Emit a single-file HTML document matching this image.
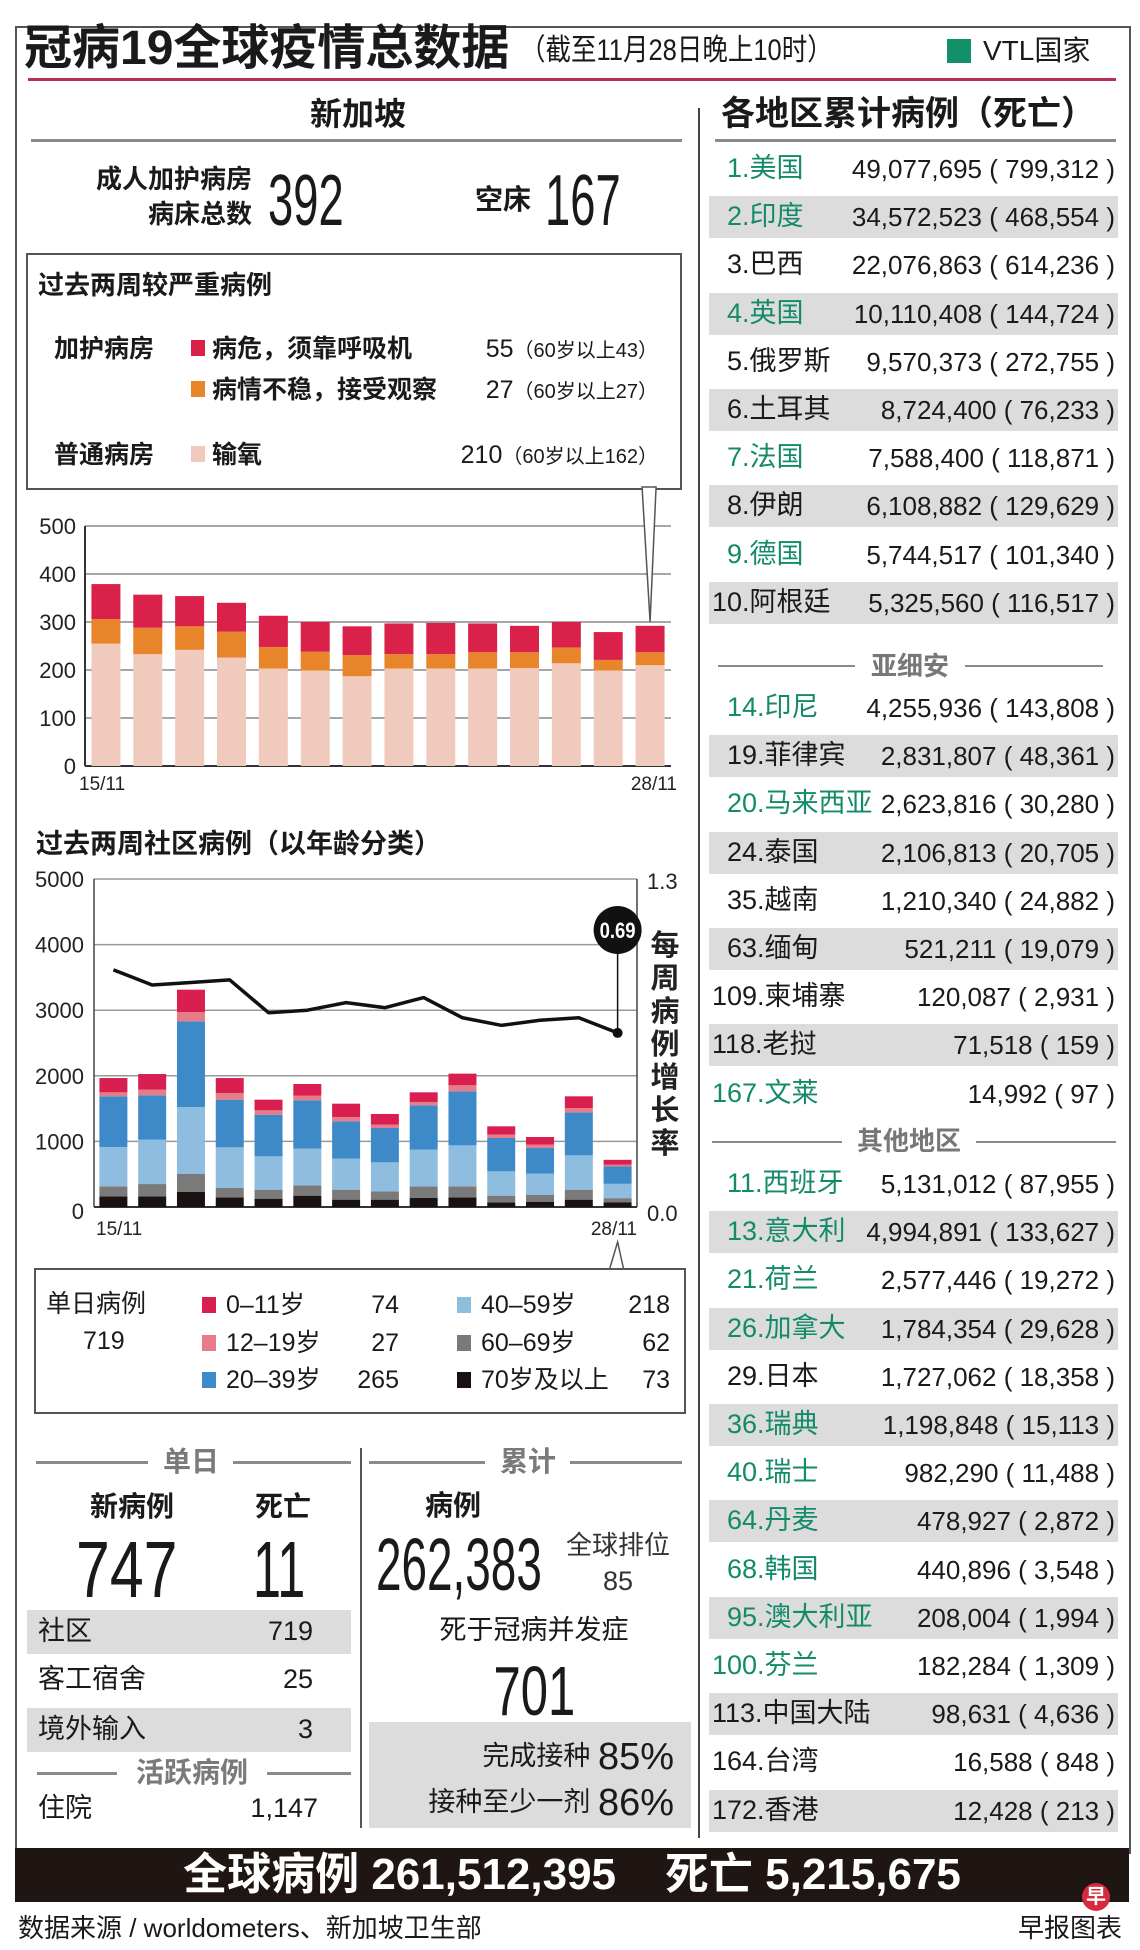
<!DOCTYPE html>
<html><head><meta charset="utf-8">
<style>
html,body{margin:0;padding:0}
body{width:1140px;height:1950px;position:relative;overflow:hidden;background:#fff;font-family:"Liberation Sans","Noto Sans CJK SC",sans-serif;color:#1a1a1a}
.t{position:absolute;white-space:nowrap;line-height:1}
.b{font-weight:bold}
.r{text-align:right}
.c{text-align:center}
.ln{position:absolute;background:#8a8a8a}
.cond{display:inline-block;transform-origin:left center}
svg{position:absolute;overflow:visible}
.sq{position:absolute;width:14px;height:16px}
.grow{position:absolute;background:#dcdcdc}
</style></head>
<body>
<div style="position:absolute;left:15px;top:26px;width:1112px;height:1826px;border:2px solid #555;border-bottom:none"></div>
<div class="t b" style="left:24px;top:25px;font-size:48px">冠病19全球疫情总数据</div>
<div class="t" style="left:520px;top:36px;font-size:30px"><span class="cond" style="transform:scaleX(.85)">（截至11月28日晚上10时）</span></div>
<div style="position:absolute;left:947px;top:39px;width:24px;height:24px;background:#11906a"></div>
<div class="t" style="left:983px;top:37px;font-size:28px">VTL国家</div>
<div style="position:absolute;left:28px;top:78px;width:1088px;height:3px;background:#b8304f"></div>

<div class="t b c" style="left:258px;top:98px;width:200px;font-size:32px">新加坡</div>
<div class="ln" style="left:31px;top:139px;width:651px;height:3px"></div>
<div style="position:absolute;left:698px;top:108px;width:2px;height:1730px;background:#444"></div>
<div class="t b r" style="left:50px;top:166px;width:202px;font-size:26px">成人加护病房</div>
<div class="t b r" style="left:50px;top:201px;width:202px;font-size:26px">病床总数</div>
<div class="t" style="left:268px;top:165px;font-size:72px"><span class="cond" style="transform:scaleX(.63)">392</span></div>
<div class="t b" style="left:475px;top:186px;font-size:28px">空床</div>
<div class="t" style="left:545px;top:165px;font-size:72px"><span class="cond" style="transform:scaleX(.63)">167</span></div>

<div style="position:absolute;left:26px;top:253px;width:652px;height:233px;border:2px solid #555"></div>
<div class="t b" style="left:38px;top:272px;font-size:26px">过去两周较严重病例</div>
<div class="t b" style="left:54px;top:337px;font-size:25px">加护病房</div>
<div class="sq" style="left:191px;top:340px;background:#d9214a"></div>
<div class="t b" style="left:212px;top:337px;font-size:25px">病危，须靠呼吸机</div>
<div class="t r" style="left:440px;top:337px;width:218px;font-size:25px">55<span style="font-size:20px">（60岁以上43）</span></div>
<div class="sq" style="left:191px;top:381px;background:#e8852a"></div>
<div class="t b" style="left:212px;top:378px;font-size:25px">病情不稳，接受观察</div>
<div class="t r" style="left:440px;top:378px;width:218px;font-size:25px">27<span style="font-size:20px">（60岁以上27）</span></div>
<div class="t b" style="left:54px;top:443px;font-size:25px">普通病房</div>
<div class="sq" style="left:191px;top:446px;background:#f0cbbd"></div>
<div class="t b" style="left:212px;top:443px;font-size:25px">输氧</div>
<div class="t r" style="left:420px;top:443px;width:238px;font-size:25px">210<span style="font-size:20px">（60岁以上162）</span></div>

<svg id="c1" style="left:0;top:480px" width="700" height="330" viewBox="0 480 700 330"></svg>

<div class="t b" style="left:36px;top:831px;font-size:27px">过去两周社区病例（以年龄分类）</div>
<svg id="c2" style="left:0;top:860px" width="700" height="410" viewBox="0 860 700 410"></svg>

<div style="position:absolute;left:34px;top:1268px;width:648px;height:142px;border:2px solid #555"></div>
<div class="t" style="left:46px;top:1292px;font-size:25px">单日病例</div>
<div class="t" style="left:83px;top:1329px;font-size:25px">719</div>
<div id="legend"></div>

<div class="ln" style="left:36px;top:1461px;width:112px;height:3px"></div>
<div class="ln" style="left:233px;top:1461px;width:118px;height:3px"></div>
<div class="t b c" style="left:150px;top:1448px;width:82px;font-size:28px;color:#7a7a7a">单日</div>
<div class="t b c" style="left:72px;top:1493px;width:120px;font-size:28px">新病例</div>
<div class="t b c" style="left:233px;top:1493px;width:100px;font-size:28px">死亡</div>
<div class="t" style="left:76px;top:1530px;font-size:80px"><span class="cond" style="transform:scaleX(.76)">747</span></div>
<div class="t" style="left:253px;top:1530px;font-size:80px"><span class="cond" style="transform:scaleX(.63)">11</span></div>
<div class="grow" style="left:27px;top:1610px;width:324px;height:44px"></div>
<div class="t" style="left:38px;top:1618px;font-size:27px">社区</div>
<div class="t r" style="left:213px;top:1618px;width:100px;font-size:27px">719</div>
<div class="t" style="left:38px;top:1666px;font-size:27px">客工宿舍</div>
<div class="t r" style="left:213px;top:1666px;width:100px;font-size:27px">25</div>
<div class="grow" style="left:27px;top:1708px;width:324px;height:44px"></div>
<div class="t" style="left:38px;top:1716px;font-size:27px">境外输入</div>
<div class="t r" style="left:213px;top:1716px;width:100px;font-size:27px">3</div>
<div class="ln" style="left:37px;top:1772px;width:80px;height:3px"></div>
<div class="ln" style="left:267px;top:1772px;width:84px;height:3px"></div>
<div class="t b c" style="left:120px;top:1759px;width:144px;font-size:28px;color:#7a7a7a">活跃病例</div>
<div class="t" style="left:38px;top:1795px;font-size:27px">住院</div>
<div class="t r" style="left:200px;top:1795px;width:118px;font-size:27px">1,147</div>
<div style="position:absolute;left:360px;top:1448px;width:2px;height:380px;background:#555"></div>

<div class="ln" style="left:369px;top:1461px;width:116px;height:3px"></div>
<div class="ln" style="left:570px;top:1461px;width:112px;height:3px"></div>
<div class="t b c" style="left:487px;top:1448px;width:82px;font-size:28px;color:#7a7a7a">累计</div>
<div class="t b" style="left:425px;top:1492px;font-size:28px">病例</div>
<div class="t" style="left:376px;top:1528px;font-size:74px"><span class="cond" style="transform:scaleX(.62)">262,383</span></div>
<div class="t" style="left:566px;top:1532px;font-size:26px;color:#333">全球排位</div>
<div class="t c" style="left:578px;top:1568px;width:80px;font-size:27px;color:#333">85</div>
<div class="t c" style="left:400px;top:1617px;width:268px;font-size:27px">死于冠病并发症</div>
<div class="t c" style="left:434px;top:1656px;width:200px;font-size:70px"><span style="display:inline-block;transform:scaleX(.7)">701</span></div>
<div class="grow" style="left:369px;top:1722px;width:322px;height:106px"></div>
<div class="t r" style="left:380px;top:1738px;width:294px;font-size:27px">完成接种 <span style="font-size:38px;vertical-align:-4px">85%</span></div>
<div class="t r" style="left:380px;top:1784px;width:294px;font-size:27px">接种至少一剂 <span style="font-size:38px;vertical-align:-4px">86%</span></div>

<div class="t b" style="left:721px;top:97px;font-size:34px">各地区累计病例（死亡）</div>
<div class="ln" style="left:715px;top:139px;width:401px;height:3px"></div>
<div class="ln" style="left:718px;top:665px;width:137px;height:2px"></div>
<div class="ln" style="left:965px;top:665px;width:138px;height:2px"></div>
<div class="t b c" style="left:857px;top:653px;width:106px;font-size:26px;color:#777">亚细安</div>
<div class="ln" style="left:712px;top:1141px;width:130px;height:2px"></div>
<div class="ln" style="left:976px;top:1141px;width:140px;height:2px"></div>
<div class="t b c" style="left:842px;top:1128px;width:134px;font-size:26px;color:#777">其他地区</div>
<div id="table"></div>

<div style="position:absolute;left:15px;top:1848px;width:1114px;height:54px;background:#1f1512"></div>
<div class="t b c" style="left:15px;top:1853px;width:1114px;font-size:44px;color:#fff">全球病例 261,512,395&nbsp;&nbsp;&nbsp; 死亡 5,215,675</div>
<div class="t" style="left:18px;top:1915px;font-size:26px">数据来源 / worldometers、新加坡卫生部</div>
<div class="t" style="left:1018px;top:1915px;font-size:26px">早报图表</div>
<div class="t b c" style="left:1082px;top:1883px;width:28px;height:28px;line-height:28px;border-radius:14px;background:#d62a3e;color:#fff;font-size:20px">早</div>

<script>
const c1Oxygen   = [255,233,242,226,203,199,187,203,203,203,204,214,199,210];
const c1Unstable = [51,55,49,54,45,39,44,30,30,34,33,33,22,27];
const c1Critical = [73,69,63,60,65,62,60,64,65,60,55,53,58,55];
const c1Ticks = [0,100,200,300,400,500];
const c1XLabels = ['15/11','28/11'];

const c2Age70 = [163,163,229,147,127,173,112,112,137,147,71,81,112,73];
const c2Age60 = [152,187,274,143,137,157,152,127,178,168,102,107,152,62];
const c2Age40 = [600,676,1021,620,508,559,473,442,559,625,371,320,524,218];
const c2Age20 = [772,676,1306,726,635,737,569,523,676,823,508,391,655,265];
const c2Age12 = [61,87,142,102,67,71,66,51,51,92,51,51,66,27];
const c2Age0  = [218,238,341,228,162,178,203,163,147,178,127,117,178,74];
const c2Growth = [0.94,0.88,0.89,0.90,0.77,0.78,0.81,0.79,0.83,0.75,0.72,0.74,0.75,0.69];
const c2Ticks = [0,1000,2000,3000,4000,5000];
const c2RightTicks = ['1.3','0.0'];
const c2XLabels = ['15/11','28/11'];

const legendNames = ['0–11岁','12–19岁','20–39岁','40–59岁','60–69岁','70岁及以上'];
const legendValues = [74,27,265,218,62,73];
const legendColors = ['#d91f4f','#e57c88','#3e8ac8','#8fbde0','#7a7a7a','#1a1210'];

const top10 = [['1.美国','49,077,695','799,312',1],['2.印度','34,572,523','468,554',1],['3.巴西','22,076,863','614,236',0],['4.英国','10,110,408','144,724',1],['5.俄罗斯','9,570,373','272,755',0],['6.土耳其','8,724,400','76,233',0],['7.法国','7,588,400','118,871',1],['8.伊朗','6,108,882','129,629',0],['9.德国','5,744,517','101,340',1],['10.阿根廷','5,325,560','116,517',0]];
const asean = [['14.印尼','4,255,936','143,808',1],['19.菲律宾','2,831,807','48,361',0],['20.马来西亚','2,623,816','30,280',1],['24.泰国','2,106,813','20,705',0],['35.越南','1,210,340','24,882',0],['63.缅甸','521,211','19,079',0],['109.柬埔寨','120,087','2,931',0],['118.老挝','71,518','159',0],['167.文莱','14,992','97',1]];
const others = [['11.西班牙','5,131,012','87,955',1],['13.意大利','4,994,891','133,627',1],['21.荷兰','2,577,446','19,272',1],['26.加拿大','1,784,354','29,628',1],['29.日本','1,727,062','18,358',0],['36.瑞典','1,198,848','15,113',1],['40.瑞士','982,290','11,488',1],['64.丹麦','478,927','2,872',1],['68.韩国','440,896','3,548',1],['95.澳大利亚','208,004','1,994',1],['100.芬兰','182,284','1,309',1],['113.中国大陆','98,631','4,636',0],['164.台湾','16,588','848',0],['172.香港','12,428','213',0]];

const NS='http://www.w3.org/2000/svg';
function mk(parent,tag,attrs){const e=document.createElementNS(NS,tag);for(const k in attrs)e.setAttribute(k,attrs[k]);parent.appendChild(e);return e;}

(function(){
  const svg=document.getElementById('c1');
  const x0=85,x1=671,yb=766,yt=526,max=500,n=c1Oxygen.length,band=(x1-x0)/n,bw=29;
  const y=v=>yb-(v/max)*(yb-yt);
  const cx=i=>x0+band*(i+0.5);
  c1Ticks.forEach(t=>{
    const l=mk(svg,'line',{x1:x0,x2:x1,y1:y(t),y2:y(t),stroke:t===0?'#333':'#888','stroke-width':t===0?2:1.5});
    
    
    const tx=mk(svg,'text',{x:x0-9,y:y(t)+8,'text-anchor':'end','font-size':22,'font-family':'Liberation Sans',fill:'#222'});
    tx.textContent=t;
    
    
  });
  const ax=mk(svg,'line',{x1:x0,x2:x0,y1:yt,y2:yb,stroke:'#333','stroke-width':2});
  
  
  const series=[[c1Oxygen,'#f0cbbd'],[c1Unstable,'#e8852a'],[c1Critical,'#d9214a']];
  for(let i=0;i<n;i++){
    let acc=0;
    series.forEach(([arr,col])=>{
      const r=mk(svg,'rect',{x:cx(i)-bw/2,y:y(acc+arr[i]),width:bw,height:y(acc)-y(acc+arr[i]),fill:col});
      
      
      acc+=arr[i];
    });
  }
  const l1=mk(svg,'text',{x:x0-6,y:yb+24,'font-size':19,'font-family':'Liberation Sans',fill:'#222'});l1.textContent=c1XLabels[0];
  
  
  const l2=mk(svg,'text',{x:x1+6,y:yb+24,'text-anchor':'end','font-size':19,'font-family':'Liberation Sans',fill:'#222'});l2.textContent=c1XLabels[1];
  
  
  let last=c1Oxygen[n-1]+c1Unstable[n-1]+c1Critical[n-1];
  const p=mk(svg,'polygon',{points:`${cx(n-1)-8},487 ${cx(n-1)+6},487 ${cx(n-1)},${y(last)-4}`,fill:'#fff',stroke:'#555','stroke-width':1.5});
  
  
})();

(function(){
  const svg=document.getElementById('c2');
  const x0=94,x1=637,yb=1207,yt=879,max=5000,rmax=1.3,n=c2Age70.length,band=(x1-x0)/n,bw=28;
  const y=v=>yb-(v/max)*(yb-yt);
  const yr=v=>yb-(v/rmax)*(yb-yt);
  const cx=i=>x0+band*(i+0.5);
  c2Ticks.forEach(t=>{
    const l=mk(svg,'line',{x1:x0,x2:x1,y1:y(t),y2:y(t),stroke:t===0?'#333':'#999','stroke-width':t===0?2:1.5});
    
    
    const tx=mk(svg,'text',{x:x0-10,y:y(t)+(t===0?12:8),'text-anchor':'end','font-size':22,'font-family':'Liberation Sans',fill:'#222'});
    tx.textContent=t;
    
    
  });
  [x0,x1].forEach(xx=>{
    const a=mk(svg,'line',{x1:xx,x2:xx,y1:yt,y2:yb,stroke:'#444','stroke-width':1.5});
    
    
  });
  const rt=mk(svg,'text',{x:x1+10,y:yt+10,'font-size':22,'font-family':'Liberation Sans',fill:'#222'});rt.textContent=c2RightTicks[0];
  
  
  const rb=mk(svg,'text',{x:x1+10,y:yb+14,'font-size':22,'font-family':'Liberation Sans',fill:'#222'});rb.textContent=c2RightTicks[1];
  
  
  const series=[[c2Age70,legendColors[5]],[c2Age60,legendColors[4]],[c2Age40,legendColors[3]],[c2Age20,legendColors[2]],[c2Age12,legendColors[1]],[c2Age0,legendColors[0]]];
  for(let i=0;i<n;i++){
    let acc=0;
    series.forEach(([arr,col])=>{
      const r=mk(svg,'rect',{x:cx(i)-bw/2,y:y(acc+arr[i]),width:bw,height:y(acc)-y(acc+arr[i]),fill:col});
      
      
      acc+=arr[i];
    });
  }
  const pts=c2Growth.map((v,i)=>`${cx(i)},${yr(v)}`).join(' ');
  const pl=mk(svg,'polyline',{points:pts,fill:'none',stroke:'#111','stroke-width':3.5,'stroke-linejoin':'round'});
  
  
  const lx=cx(n-1),ly=yr(c2Growth[n-1]);
  const dot=mk(svg,'circle',{cx:lx,cy:ly,r:5,fill:'#111'});
  
  
  const cy=930;
  const st=mk(svg,'line',{x1:lx,x2:lx,y1:cy,y2:ly,stroke:'#111','stroke-width':1.5});
  
  
  const bub=mk(svg,'ellipse',{cx:lx,cy:cy,rx:24,ry:24,fill:'#111'});
  
  
  const bt=mk(svg,'text',{x:lx,y:cy+8,'text-anchor':'middle','font-size':22,'font-weight':'bold','font-family':'Liberation Sans',fill:'#fff',textLength:36,lengthAdjust:'spacingAndGlyphs'});
  bt.textContent=c2Growth[n-1].toFixed(2);
  
  
  const chars='每周病例增长率';
  for(let k=0;k<chars.length;k++){
    const ct=mk(svg,'text',{x:x1+28,y:955+k*33,'text-anchor':'middle','font-size':29,'font-weight':'bold','font-family':'Noto Sans CJK SC',fill:'#222'});
    ct.textContent=chars[k];
    
    
  }
  const l1=mk(svg,'text',{x:x0+2,y:yb+28,'font-size':19,'font-family':'Liberation Sans',fill:'#222'});l1.textContent=c2XLabels[0];
  
  
  const l2=mk(svg,'text',{x:x1,y:yb+28,'text-anchor':'end','font-size':19,'font-family':'Liberation Sans',fill:'#222'});l2.textContent=c2XLabels[1];
  
  
  const notch=mk(svg,'polyline',{points:`${lx-8},1269 ${lx},1242 ${lx+6},1269`,fill:'#fff',stroke:'#555','stroke-width':1.5});
  
  
})();

(function(){
  const host=document.getElementById('legend');
  const rowsY=[1306,1344,1381];
  legendNames.forEach((nm,i)=>{
    const col=i<3?0:1,row=i%3;
    const sx=col?457:202,lx=col?481:226,vr=col?670:399;
    const sq=document.createElement('div');
    sq.className='sq';sq.style.left=sx+'px';sq.style.top=(rowsY[row]-9)+'px';sq.style.background=legendColors[i];
    
    
    host.appendChild(sq);
    const lb=document.createElement('div');
    lb.className='t';lb.style.left=lx+'px';lb.style.top=(rowsY[row]-13)+'px';lb.style.fontSize='25px';lb.textContent=nm;
    
    
    host.appendChild(lb);
    const vl=document.createElement('div');
    vl.className='t r';vl.style.left=(vr-80)+'px';vl.style.width='80px';vl.style.top=(rowsY[row]-13)+'px';vl.style.fontSize='25px';vl.textContent=legendValues[i];
    
    
    host.appendChild(vl);
  });
})();

(function(){
  const host=document.getElementById('table');
  function block(rows,startY,leftFn){
    rows.forEach((r,i)=>{
      const cy=startY+i*48.2;
      if(i%2===1){
        const bg=document.createElement('div');
        bg.className='grow';bg.style.left='709px';bg.style.width='409px';bg.style.top=(cy-21)+'px';bg.style.height='42px';
        
        
        host.appendChild(bg);
      }
      const lb=document.createElement('div');
      lb.className='t';lb.style.left=leftFn(r[0])+'px';lb.style.top=(cy-14)+'px';lb.style.fontSize='27px';lb.textContent=r[0];
      lb.style.color=r[3]?'#138a68':'#1a1a1a';
      
      
      host.appendChild(lb);
      const vl=document.createElement('div');
      vl.className='t r';vl.style.left='830px';vl.style.width='285px';vl.style.top=(cy-13)+'px';vl.style.fontSize='26px';
      vl.textContent=r[1]+' ( '+r[2]+' )';
      
      
      host.appendChild(vl);
    });
  }
  const digits=s=>s.split('.')[0].length;
  block(top10,169,s=>digits(s)===1?727:712);
  block(asean,708,s=>digits(s)===2?727:712);
  block(others,1184,s=>digits(s)===2?727:712);
})();
</script>
</body></html>
